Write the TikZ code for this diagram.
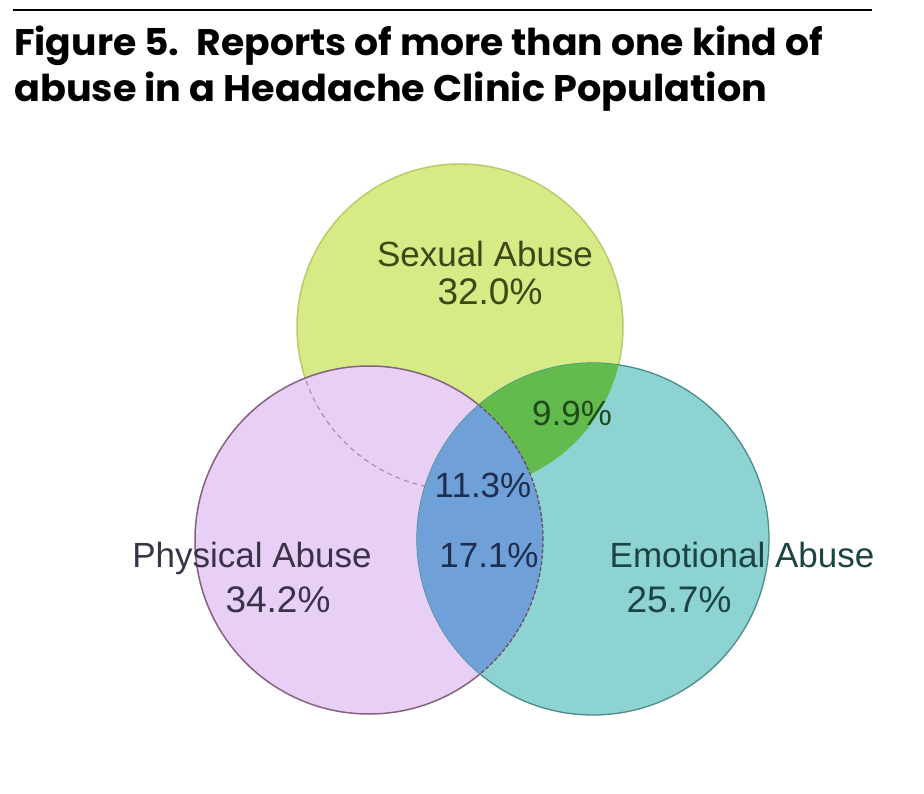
\documentclass[tikz,border=0pt]{standalone}
\usepackage{fontspec}
\usepackage{graphicx}
\setmainfont{Liberation Sans}
\newfontfamily\titlefont{Poppins}
\definecolor{ylw}{HTML}{D6EA86}
\definecolor{ylwline}{HTML}{B9CC6A}
\definecolor{pnk}{HTML}{E7CFF5}
\definecolor{pnkline}{HTML}{85627E}
\definecolor{tea}{HTML}{8DD3D1}
\definecolor{tealine}{HTML}{4B8C8A}
\definecolor{grn}{HTML}{62BB4C}
\definecolor{blu}{HTML}{6FA0D8}
\definecolor{txS}{HTML}{3A4A14}
\definecolor{txG}{HTML}{1F4A1A}
\definecolor{txB}{HTML}{1E2E4E}
\definecolor{txP}{HTML}{3A3248}
\definecolor{txE}{HTML}{1C4442}
\tikzset{
  lbl/.style={anchor=base, inner sep=0pt, font=\fontsize{35}{40}\selectfont},
  pct/.style={anchor=base, inner sep=0pt, font=\fontsize{37}{42}\selectfont},
  spct/.style={anchor=base, inner sep=0pt, font=\fontsize{35}{40}\selectfont},
  ttl/.style={anchor=base west, inner sep=0pt, font=\titlefont\bfseries\fontsize{37}{40}\selectfont},
}
\begin{document}
\begin{tikzpicture}[x=1pt,y=-1pt]
\useasboundingbox (0,0) rectangle (924,794);
\fill[white] (0,0) rectangle (924,794);
% rule
\coordinate (rl) at (13,10);
\coordinate (rr) at (872,10);
\draw[line width=1.4pt] (rl) -- (rr);
% title
\node[ttl] (t1) at (14,56) {\resizebox{809pt}{\height}{Figure 5.\hspace{0.45em}Reports of more than one kind of}};
\node[ttl] (t2) at (14,102) {\resizebox{753pt}{\height}{abuse in a Headache Clinic Population}};
% circle centres
\coordinate (cS) at (460,327);
\coordinate (cP) at (369,540);
\coordinate (cE) at (593,539);
% sexual
\filldraw[fill=ylw, draw=ylwline, line width=1.5pt] (cS) circle[radius=163pt];
% physical
\filldraw[fill=pnk, draw=pnkline, line width=1.5pt] (cP) circle[radius=174pt];
\begin{scope}
  \clip (cP) circle[radius=174pt];
  \draw[pnkline!55!pnk, line width=1.3pt, dash pattern=on 5pt off 4pt] (cS) circle[radius=163pt];
\end{scope}
% emotional
\filldraw[fill=tea, draw=tealine, line width=1.3pt] (cE) circle[radius=176pt];
% sexual & emotional
\begin{scope}
  \clip (cS) circle[radius=163pt];
  \fill[grn] (cE) circle[radius=176pt];
\end{scope}
% physical & emotional
\begin{scope}
  \clip (cP) circle[radius=174pt];
  \fill[blu] (cE) circle[radius=176pt];
\end{scope}
\begin{scope}
  \clip (cE) circle[radius=176pt];
  \draw[pnkline!80!black, line width=1.3pt, dash pattern=on 4pt off 2pt] (cP) circle[radius=174pt];
\end{scope}
% labels
\node[lbl, text=txS] (sl) at (485,267) {Sexual Abuse};
\node[pct, text=txS] (sp) at (490,305) {32.0\%};
\node[spct, text=txG] (se) at (572,425) {9.9\%};
\node[spct, text=txB] (spe) at (483,497) {11.3\%};
\node[spct, text=txB] (pe) at (489,567) {17.1\%};
\node[lbl, text=txP] (pl) at (252,567) {Physical Abuse};
\node[pct, text=txP] (pp) at (278,612) {34.2\%};
\node[lbl, text=txE] (el) at (742,567) {Emotional Abuse};
\node[pct, text=txE] (ep) at (679,612) {25.7\%};
\end{tikzpicture}
\end{document}
